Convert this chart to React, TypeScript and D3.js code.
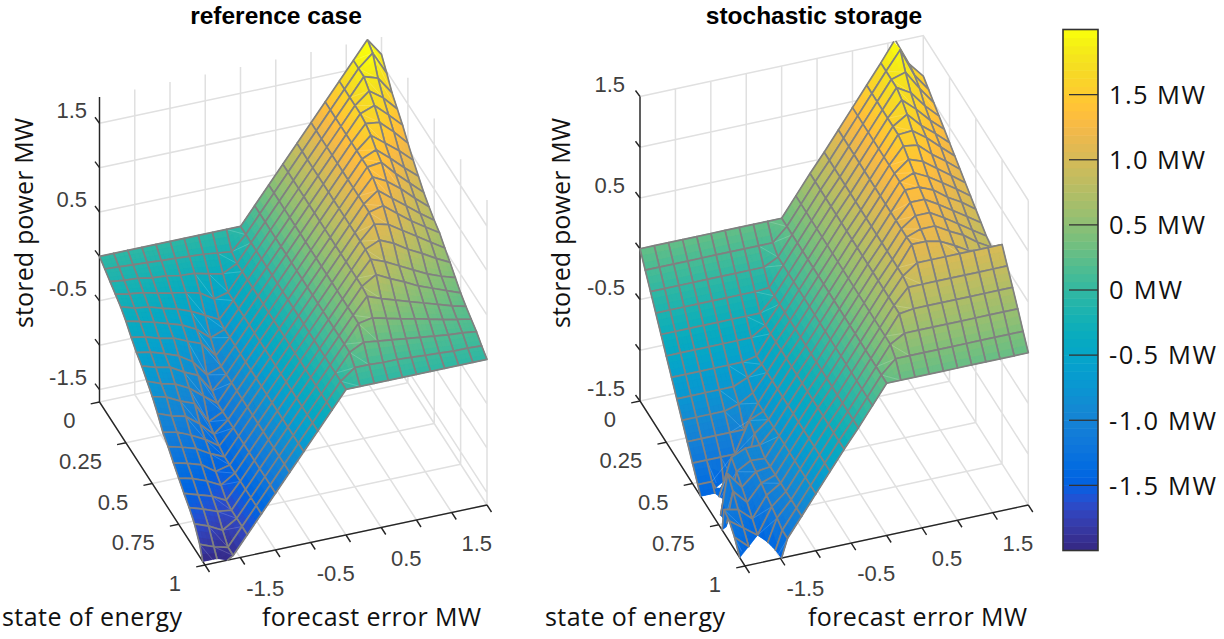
import React from "react";
import * as d3 from "d3";

const forecastError = [-2,-1.8,-1.6,-1.4,-1.2,-1,-0.8,-0.6,-0.4,-0.2,0,0.2,0.4,0.6,0.8,1,1.2,1.4,1.6,1.8,2];
const stateOfEnergy = [0,0.05,0.1,0.15,0.2,0.25,0.3,0.35,0.4,0.45,0.5,0.55,0.6,0.65,0.7,0.75,0.8,0.85,0.9,0.95,1];

const referenceCase = [
[0,0,0,0,0,0,0,0,0,0,0,.2,.4,.6,.8,1,1.2,1.4,1.6,1.8,1.6],
[-.05,-.06,-.07,-.08,-.09,-.1,-.11,-.12,-.14,-.16,0,.2,.4,.6,.8,1,1.2,1.4,1.6,1.74,1.48],
[-.1,-.12,-.13,-.16,-.17,-.2,-.21,-.25,-.28,-.2,0,.2,.4,.6,.8,1,1.2,1.4,1.6,1.55,1.35],
[-.15,-.18,-.2,-.24,-.27,-.3,-.34,-.44,-.4,-.2,0,.2,.4,.6,.8,1,1.2,1.4,1.53,1.42,1.26],
[-.2,-.25,-.27,-.32,-.36,-.42,-.5,-.58,-.4,-.2,0,.2,.4,.6,.8,1,1.2,1.4,1.46,1.32,1.17],
[-.27,-.31,-.35,-.4,-.45,-.53,-.66,-.6,-.4,-.2,0,.2,.4,.6,.8,1,1.2,1.38,1.36,1.22,1.06],
[-.36,-.39,-.44,-.47,-.54,-.6,-.77,-.6,-.4,-.2,0,.2,.4,.6,.8,1,1.2,1.34,1.22,1.1,.96],
[-.44,-.47,-.52,-.58,-.68,-.86,-.8,-.6,-.4,-.2,0,.2,.4,.6,.8,1,1.2,1.27,1.14,1,.87],
[-.5,-.55,-.58,-.67,-.74,-.95,-.8,-.6,-.4,-.2,0,.2,.4,.6,.8,1,1.2,1.22,1.06,.92,.78],
[-.58,-.64,-.68,-.76,-.88,-1,-.8,-.6,-.4,-.2,0,.2,.4,.6,.8,1,1.18,1.1,.98,.84,.71],
[-.66,-.7,-.78,-.84,-1.08,-1,-.8,-.6,-.4,-.2,0,.2,.4,.6,.8,1,1.12,1,.88,.76,.65],
[-.76,-.82,-.86,-.98,-1.13,-1,-.8,-.6,-.4,-.2,0,.2,.4,.6,.8,1,1.04,.92,.8,.7,.6],
[-.88,-.91,-.98,-1.06,-1.17,-1,-.8,-.6,-.4,-.2,0,.2,.4,.6,.8,.96,.92,.82,.72,.62,.52],
[-.95,-.99,-1.04,-1.13,-1.2,-1,-.8,-.6,-.4,-.2,0,.2,.4,.6,.8,.87,.8,.7,.62,.53,.45],
[-1.04,-1.08,-1.13,-1.24,-1.2,-1,-.8,-.6,-.4,-.2,0,.2,.4,.6,.78,.72,.64,.56,.48,.42,.37],
[-1.12,-1.16,-1.22,-1.3,-1.2,-1,-.8,-.6,-.4,-.2,0,.2,.4,.6,.7,.62,.55,.47,.41,.35,.29],
[-1.2,-1.25,-1.3,-1.38,-1.2,-1,-.8,-.6,-.4,-.2,0,.2,.4,.58,.52,.47,.42,.37,.32,.27,.23],
[-1.27,-1.32,-1.38,-1.4,-1.2,-1,-.8,-.6,-.4,-.2,0,.2,.4,.43,.39,.35,.32,.28,.24,.21,.18],
[-1.36,-1.42,-1.5,-1.4,-1.2,-1,-.8,-.6,-.4,-.2,0,.2,.28,.26,.24,.22,.2,.18,.16,.15,.13],
[-1.5,-1.56,-1.6,-1.4,-1.2,-1,-.8,-.6,-.4,-.2,0,.12,.12,.11,.11,.1,.09,.08,.07,.07,.06],
[-1.75,-1.7,-1.6,-1.4,-1.2,-1,-.8,-.6,-.4,-.2,0,0,0,0,0,0,0,0,0,0,0],
];

const stochasticStorage = [
[0,0,0,0,0,0,0,0,0,0,0,.19,.38,.56,.75,.94,1.13,1.32,1.52,1.25,1.1],
[-.13,-.13,-.13,-.13,-.13,-.13,-.13,-.13,-.13,-.13,0,.19,.38,.56,.75,.94,1.13,1.32,1.5,1.22,1.05],
[-.26,-.26,-.26,-.26,-.26,-.26,-.26,-.26,-.26,-.19,0,.19,.38,.56,.75,.94,1.13,1.32,1.36,1.17,1],
[-.39,-.39,-.39,-.39,-.39,-.39,-.39,-.39,-.38,-.19,0,.19,.38,.56,.75,.94,1.13,1.32,1.24,1.08,.95],
[-.52,-.52,-.52,-.52,-.52,-.52,-.52,-.52,-.38,-.19,0,.19,.38,.56,.75,.94,1.13,1.28,1.16,1.02,.9],
[-.65,-.65,-.65,-.65,-.65,-.65,-.65,-.56,-.38,-.19,0,.19,.38,.56,.75,.94,1.13,1.22,1.08,.97,.85],
[-.78,-.78,-.78,-.78,-.78,-.78,-.75,-.56,-.38,-.19,0,.19,.38,.56,.75,.94,1.13,1.14,1.04,.92,.8],
[-.91,-.91,-.91,-.91,-.91,-.85,-.75,-.56,-.38,-.19,0,.19,.38,.56,.75,.94,1.1,1.08,.96,.86,.75],
[-1.04,-1.04,-1.04,-1.04,-1,-.92,-.75,-.56,-.38,-.19,0,.19,.38,.56,.75,.94,1.05,1,.9,.8,.7],
[-1.17,-1.17,-1.17,-1.17,-1.17,-.94,-.75,-.56,-.38,-.19,0,.19,.38,.56,.75,.94,1,.93,.84,.75,.65],
[-1.3,-1.3,-1.3,-1.3,-1,-.94,-.75,-.56,-.38,-.19,0,.19,.38,.56,.75,.94,.94,.88,.78,.7,.6],
[-1.43,-1.43,-1.7,-1.6,-1.05,-.94,-.75,-.56,-.38,-.19,0,.19,.38,.56,.75,.9,.9,.82,.73,.64,.55],
[-1.56,-1.56,-1.14,-1.08,-1.08,-.94,-.75,-.56,-.38,-.19,0,.19,.38,.56,.75,.85,.85,.77,.68,.59,.5],
[-1.69,-1.9,-1.2,-1.12,-1.13,-.94,-.75,-.56,-.38,-.19,0,.19,.38,.56,.75,.8,.8,.72,.65,.55,.47],
[-1.9,-1.11,-1.27,-1.15,-1.13,-.94,-.75,-.56,-.38,-.19,0,.19,.38,.56,.76,.76,.73,.66,.58,.5,.42],
[-1.9,-1.2,-1.34,-1.18,-1.13,-.94,-.75,-.56,-.38,-.19,0,.19,.38,.56,.66,.66,.66,.66,.66,.66,.66],
[-1.27,-1.3,-1.42,-1.22,-1.13,-.94,-.75,-.56,-.38,-.19,0,.19,.38,.53,.53,.53,.53,.53,.53,.53,.53],
[-1.3,-1.4,-1.5,-1.25,-1.13,-.94,-.75,-.56,-.38,-.19,0,.19,.38,.4,.4,.4,.4,.4,.4,.4,.4],
[-1.38,-1.5,-1.62,-1.28,-1.13,-.94,-.75,-.56,-.38,-.19,0,.19,.27,.27,.27,.27,.27,.27,.27,.27,.27],
[-1.5,-1.7,-1.7,-1.32,-1.13,-.94,-.75,-.56,-.38,-.19,0,.13,.13,.13,.13,.13,.13,.13,.13,.13,.13],
[-2,-1.9,-1.75,-1.32,-1.13,-.94,-.75,-.56,-.38,-.19,0,0,0,0,0,0,0,0,0,0,0],
];

const parula = [
[.2081,.1663,.5292],[.2116,.1898,.5777],[.2123,.2138,.627],[.2081,.2386,.6771],[.1959,.2645,.7279],[.1707,.2919,.7792],[.1253,.3242,.8303],[.0591,.3598,.8683],
[.0117,.3875,.882],[.006,.4086,.8828],[.0165,.4266,.8786],[.0329,.443,.872],[.0498,.4586,.8641],[.0629,.4737,.8554],[.0723,.4887,.8467],[.0779,.504,.8384],
[.0793,.52,.8312],[.0749,.5375,.8263],[.0641,.557,.824],[.0488,.5772,.8228],[.0343,.5966,.8199],[.0265,.6137,.8135],[.0239,.6287,.8038],[.0231,.6418,.7913],
[.0228,.6535,.7768],[.0267,.6642,.7607],[.0384,.6743,.7436],[.059,.6838,.7254],[.0843,.6928,.7062],[.1133,.7015,.6859],[.1453,.7098,.6646],[.1801,.7177,.6424],
[.2178,.725,.6193],[.2586,.7317,.5954],[.3022,.7376,.5712],[.3482,.7424,.5473],[.3953,.7459,.5244],[.442,.7481,.5033],[.4871,.7491,.484],[.53,.7491,.4661],
[.5709,.7485,.4494],[.6099,.7473,.4337],[.6473,.7456,.4188],[.6834,.7435,.4044],[.7184,.7411,.3905],[.7525,.7384,.3768],[.7858,.7356,.3633],[.8185,.7327,.3498],
[.8507,.7299,.336],[.8824,.7274,.3217],[.9139,.7258,.3063],[.945,.7261,.2886],[.9739,.7314,.2666],[.9938,.7455,.2403],[.999,.7653,.2164],[.9955,.7861,.1967],
[.988,.8066,.1794],[.9789,.8271,.1633],[.9697,.8481,.1475],[.9626,.8705,.1309],[.9589,.8949,.1132],[.9598,.9218,.0948],[.9661,.9514,.0755],[.9763,.9831,.0538],
];
const parulaHex = parula.map(([r, g, b]) => d3.rgb(r * 255, g * 255, b * 255).formatHex());
const colorAt = d3.scaleLinear<string>()
  .domain(parulaHex.map((_, i) => i / 63))
  .range(parulaHex)
  .clamp(true);

const zTicks = [-1.5,-1,-0.5,0,0.5,1,1.5];
const zLabels = [-1.5,-0.5,0.5,1.5];
const fcTicks = [-2,-1.5,-1,-0.5,0,0.5,1,1.5,2];
const fcLabels = [-1.5,-0.5,0.5,1.5];
const soeTicks = [0,0.25,0.5,0.75,1];
const soeLabels = ["0","0.25","0.5","0.75","1"];
const barTicks = [1.5,1,0.5,0,-0.5,-1,-1.5];
const barLabels = ["1.5 MW","1.0 MW","0.5 MW","0 MW","-0.5 MW","-1.0 MW","-1.5 MW"];
const barWidths = [96,96,96,73,107,107,107];

const SANS = "'Liberation Sans', Arial, sans-serif";
const LABEL = "'Open Sans', 'Noto Sans', sans-serif";
const GRID = "#e0e0e0";
const AXIS = "#262626";
const TEXT = "#404040";

type Geo = { ax: number; ay: number; fx: number; fy: number; sx: number; sy: number; h: number; zlim: number[]; clim: number[]; title: string; titleX: number; data: number[][]; zLabelX: number; ylab: number; sLabX: number; fLabX: number };

const LEFT: Geo = { ax: 99.5, ay: 402, fx: 282, fy: -60, sx: 105.5, sy: 163, h: 305, zlim: [-1.64, 1.796], clim: [-1.65, 1.7], title: "reference case", titleX: 276, data: referenceCase, zLabelX: 87, ylab: 26, sLabX: 92, fLabX: 371.5 };
const RIGHT: Geo = { ax: 640, ay: 401, fx: 283.3, fy: -61, sx: 105, sy: 165, h: 304.5, zlim: [-1.5, 1.5], clim: [-2, 1.5], title: "stochastic storage", titleX: 814, data: stochasticStorage, zLabelX: 625, ylab: 563, sLabX: 635, fLabX: 917.5 };

type P3 = [number, number, number];

function clipPlane(poly: P3[], limit: number, keepBelow: boolean): P3[] {
  const out: P3[] = [];
  const inside = (p: P3) => (keepBelow ? p[2] <= limit : p[2] >= limit);
  for (let i = 0; i < poly.length; i++) {
    const a = poly[i], b = poly[(i + 1) % poly.length];
    const ia = inside(a), ib = inside(b);
    if (ia) out.push(a);
    if (ia !== ib) {
      const t = (limit - a[2]) / (b[2] - a[2]);
      out.push([a[0] + t * (b[0] - a[0]), a[1] + t * (b[1] - a[1]), limit]);
    }
  }
  return out;
}

function clipSegment(a: P3, b: P3, lo: number, hi: number): [P3, P3] | null {
  let t0 = 0, t1 = 1;
  const dz = b[2] - a[2];
  if (dz === 0) return a[2] < lo || a[2] > hi ? null : [a, b];
  const ta = (lo - a[2]) / dz, tb = (hi - a[2]) / dz;
  t0 = Math.max(t0, Math.min(ta, tb));
  t1 = Math.min(t1, Math.max(ta, tb));
  if (t0 >= t1) return null;
  const at = (t: number): P3 => [a[0] + t * (b[0] - a[0]), a[1] + t * (b[1] - a[1]), a[2] + t * dz];
  return [at(t0), at(t1)];
}

const SUB = [0, 1 / 3, 2 / 3];

function Panel({ g }: { g: Geo }) {
  const uF = d3.scaleLinear().domain([-2, 2]).range([0, 1]);
  const uS = d3.scaleLinear().domain([0, 1]).range([0, 1]);
  const uZ = d3.scaleLinear().domain(g.zlim).range([0, 1]);
  const uC = d3.scaleLinear().domain(g.clim).range([0, 1]);
  const pr = (f: number, s: number, z: number): [number, number] => [
    g.ax + uF(f) * g.fx + uS(s) * g.sx,
    g.ay + uF(f) * g.fy + uS(s) * g.sy - uZ(z) * g.h,
  ];
  const line = d3.line<[number, number]>();
  const [zLo, zHi] = g.zlim;
  const seg = (a: P3, b: P3) => {
    const c = clipSegment(a, b, zLo, zHi);
    return c ? line([pr(c[0][0], c[0][1], c[0][2]), pr(c[1][0], c[1][1], c[1][2])]) : "";
  };
  const clipped = (poly: P3[]) => {
    let p = clipPlane(poly, zHi, true);
    if (p.length) p = clipPlane(p, zLo, false);
    return p;
  };

  const cells: React.ReactNode[] = [];
  for (let r = 0; r < stateOfEnergy.length - 1; r++) {
    for (let c = forecastError.length - 2; c >= 0; c--) {
      const s0 = stateOfEnergy[r], s1 = stateOfEnergy[r + 1];
      const f0 = forecastError[c], f1 = forecastError[c + 1];
      const z00 = g.data[r][c], z01 = g.data[r][c + 1], z10 = g.data[r + 1][c], z11 = g.data[r + 1][c + 1];
      const zAt = (u: number, v: number) => (1 - v) * ((1 - u) * z00 + u * z01) + v * ((1 - u) * z10 + u * z11);
      const a: P3 = [f0, s0, z00], b: P3 = [f1, s0, z01], e: P3 = [f1, s1, z11], h: P3 = [f0, s1, z10];
      const parts: React.ReactNode[] = [];
      const whole = clipped([a, b, e, h]);
      if (whole.length >= 3) {
        const col = colorAt(uC(zAt(0.5, 0.5)));
        parts.push(<path key="base" d={line(whole.map((p) => pr(p[0], p[1], p[2]))) + "Z"} fill={col} stroke={col} strokeWidth={0.5} />);
      }
      SUB.forEach((u, iu) => SUB.forEach((v, iv) => {
        const u1 = u + 1 / 3, v1 = v + 1 / 3;
        const pt = (x: number, y: number): P3 => [f0 + x * (f1 - f0), s0 + y * (s1 - s0), zAt(x, y)];
        const poly = clipped([pt(u, v), pt(u1, v), pt(u1, v1), pt(u, v1)]);
        if (poly.length < 3) return;
        const col = colorAt(uC(zAt(u + 1 / 6, v + 1 / 6)));
        parts.push(<path key={iu * 3 + iv} d={line(poly.map((p) => pr(p[0], p[1], p[2]))) + "Z"} fill={col} stroke={col} strokeWidth={0.6} />);
      }));
      const edges = seg(a, b) + seg(b, e) + seg(e, h) + seg(h, a);
      const warped = Math.abs(z00 + z11 - z01 - z10) > 0.04;
      cells.push(
        <g key={r * 100 + c}>
          {parts}
          {warped ? <path d={seg(a, e)} stroke="#fff" strokeOpacity={0.35} strokeWidth={0.5} fill="none" /> : null}
          <path d={edges} stroke="#808080" strokeWidth={1.7} fill="none" strokeLinejoin="round" strokeLinecap="round" />
        </g>
      );
    }
  }

  const gridPaths: string[] = [];
  fcTicks.forEach((f) => {
    gridPaths.push(line([pr(f, 0, zLo), pr(f, 0, zHi)])!);
    gridPaths.push(line([pr(f, 0, zLo), pr(f, 1, zLo)])!);
  });
  soeTicks.forEach((s) => {
    gridPaths.push(line([pr(2, s, zLo), pr(2, s, zHi)])!);
    gridPaths.push(line([pr(-2, s, zLo), pr(2, s, zLo)])!);
  });
  zTicks.forEach((z) => {
    gridPaths.push(line([pr(-2, 0, z), pr(2, 0, z), pr(2, 1, z)])!);
  });

  const axisPath = line([pr(-2, 0, zHi), pr(-2, 0, zLo), pr(-2, 1, zLo), pr(2, 1, zLo)])!;
  const tickPaths: string[] = [];
  zTicks.forEach((z) => { const p = pr(-2, 0, z); tickPaths.push(line([p, [p[0] - 4.5, p[1] - 6]])!); });
  soeTicks.forEach((s) => { const p = pr(-2, s, zLo); tickPaths.push(line([p, [p[0] - 8.8, p[1] + 1.9]])!); });
  fcTicks.forEach((f) => { const p = pr(f, 1, zLo); tickPaths.push(line([p, [p[0] + 4.5, p[1] + 7]])!); });

  return (
    <g>
      <path d={gridPaths.join("")} stroke={GRID} strokeWidth={1.5} fill="none" />
      <path d={axisPath} stroke={AXIS} strokeWidth={1.4} fill="none" />
      <path d={tickPaths.join("")} stroke={AXIS} strokeWidth={1.4} fill="none" />
      {cells}
      <text x={g.titleX} y={24} textAnchor="middle" fontFamily={SANS} fontWeight="bold" fontSize={24.5} fill="#000">{g.title}</text>
      {zLabels.map((z) => {
        const p = pr(-2, 0, z);
        return <text key={z} x={g.zLabelX} y={p[1] - 13 + 8} textAnchor="end" fontFamily={SANS} fontSize={22} fill={TEXT}>{String(z)}</text>;
      })}
      {soeLabels.map((t, i) => {
        const p = pr(-2, soeTicks[i], zLo);
        return <text key={t} x={p[0] - 24} y={p[1] + 26} textAnchor="end" fontFamily={SANS} fontSize={22} fill={TEXT}>{t}</text>;
      })}
      {fcLabels.map((f) => {
        const p = pr(f, 1, zLo);
        return <text key={f} x={p[0] + 25} y={p[1] + 38} textAnchor="middle" fontFamily={SANS} fontSize={22} fill={TEXT}>{String(f)}</text>;
      })}
      <text transform={`translate(${g.ylab + 7},223) rotate(-90)`} textAnchor="middle" fontFamily={LABEL} fontSize={25} textLength={210} lengthAdjust="spacing" fill="#111">stored power MW</text>
      <text x={g.sLabX} y={626} textAnchor="middle" fontFamily={LABEL} fontSize={25} textLength={180} lengthAdjust="spacing" fill="#111">state of energy</text>
      <text x={g.fLabX} y={626} textAnchor="middle" fontFamily={LABEL} fontSize={25} textLength={219} lengthAdjust="spacing" fill="#111">forecast error MW</text>
    </g>
  );
}

function Colorbar() {
  const y = d3.scaleLinear().domain([-2, 2]).range([550.5, 29.5]);
  const step = 4 / parulaHex.length;
  return (
    <g>
      {parulaHex.map((col, i) => (
        <rect key={i} x={1063} width={35} y={y(-2 + (i + 1) * step)} height={y(-2 + i * step) - y(-2 + (i + 1) * step) + 0.5} fill={col} />
      ))}
      <rect x={1063} y={29.5} width={35} height={521} fill="none" stroke="#333" strokeWidth={1.6} />
      {barTicks.map((t, i) => (
        <g key={t}>
          <line x1={1069} x2={1098} y1={y(t)} y2={y(t)} stroke="#333" strokeWidth={1.3} />
          <text x={1109} y={y(t) + 9.3} fontFamily={LABEL} fontSize={25.5} textLength={barWidths[i]} lengthAdjust="spacing" fill="#111">{barLabels[i]}</text>
        </g>
      ))}
    </g>
  );
}

export default function App() {
  return (
    <svg width={1224} height={639} style={{ position: "absolute", left: 0, top: 0, background: "#fff" }}>
      <Panel g={LEFT} />
      <Panel g={RIGHT} />
      <Colorbar />
    </svg>
  );
}
